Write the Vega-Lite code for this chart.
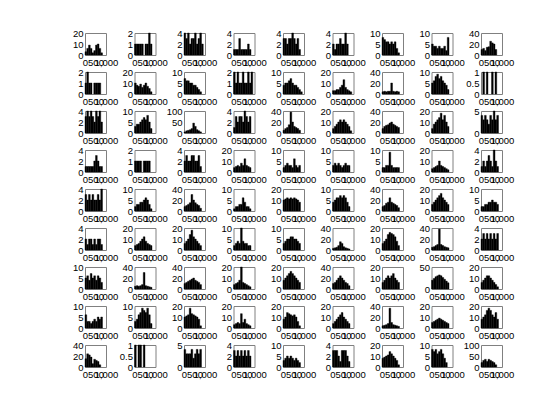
{
"$schema": "https://vega.github.io/schema/vega-lite/v6.json",
"background": "white",
"padding": {"left": 71, "top": 27, "right": 5, "bottom": 5},
"datasets": {"panels": [
{"p":1,"r":1,"k":1,"m":20},{"p":2,"r":1,"k":2,"m":2},{"p":3,"r":1,"k":3,"m":4},{"p":4,"r":1,"k":4,"m":4},{"p":5,"r":1,"k":5,"m":4},{"p":6,"r":1,"k":6,"m":4},{"p":7,"r":1,"k":7,"m":10},{"p":8,"r":1,"k":8,"m":10},{"p":9,"r":1,"k":9,"m":40},
{"p":10,"r":2,"k":1,"m":2},{"p":11,"r":2,"k":2,"m":20},{"p":12,"r":2,"k":3,"m":10},{"p":13,"r":2,"k":4,"m":2},{"p":14,"r":2,"k":5,"m":10},{"p":15,"r":2,"k":6,"m":20},{"p":16,"r":2,"k":7,"m":40},{"p":17,"r":2,"k":8,"m":10},{"p":18,"r":2,"k":9,"m":1},
{"p":19,"r":3,"k":1,"m":4},{"p":20,"r":3,"k":2,"m":10},{"p":21,"r":3,"k":3,"m":100},{"p":22,"r":3,"k":4,"m":4},{"p":23,"r":3,"k":5,"m":40},{"p":24,"r":3,"k":6,"m":20},{"p":25,"r":3,"k":7,"m":40},{"p":26,"r":3,"k":8,"m":20},{"p":27,"r":3,"k":9,"m":5},
{"p":28,"r":4,"k":1,"m":4},{"p":29,"r":4,"k":2,"m":2},{"p":30,"r":4,"k":3,"m":4},{"p":31,"r":4,"k":4,"m":20},{"p":32,"r":4,"k":5,"m":10},{"p":33,"r":4,"k":6,"m":10},{"p":34,"r":4,"k":7,"m":10},{"p":35,"r":4,"k":8,"m":20},{"p":36,"r":4,"k":9,"m":4},
{"p":37,"r":5,"k":1,"m":4},{"p":38,"r":5,"k":2,"m":10},{"p":39,"r":5,"k":3,"m":40},{"p":40,"r":5,"k":4,"m":10},{"p":41,"r":5,"k":5,"m":20},{"p":42,"r":5,"k":6,"m":10},{"p":43,"r":5,"k":7,"m":40},{"p":44,"r":5,"k":8,"m":20},{"p":45,"r":5,"k":9,"m":10},
{"p":46,"r":6,"k":1,"m":4},{"p":47,"r":6,"k":2,"m":20},{"p":48,"r":6,"k":3,"m":20},{"p":49,"r":6,"k":4,"m":10},{"p":50,"r":6,"k":5,"m":10},{"p":51,"r":6,"k":6,"m":40},{"p":52,"r":6,"k":7,"m":20},{"p":53,"r":6,"k":8,"m":40},{"p":54,"r":6,"k":9,"m":4},
{"p":55,"r":7,"k":1,"m":10},{"p":56,"r":7,"k":2,"m":40},{"p":57,"r":7,"k":3,"m":40},{"p":58,"r":7,"k":4,"m":20},{"p":59,"r":7,"k":5,"m":20},{"p":60,"r":7,"k":6,"m":40},{"p":61,"r":7,"k":7,"m":20},{"p":62,"r":7,"k":8,"m":50},{"p":63,"r":7,"k":9,"m":20},
{"p":64,"r":8,"k":1,"m":10},{"p":65,"r":8,"k":2,"m":10},{"p":66,"r":8,"k":3,"m":20},{"p":67,"r":8,"k":4,"m":20},{"p":68,"r":8,"k":5,"m":20},{"p":69,"r":8,"k":6,"m":20},{"p":70,"r":8,"k":7,"m":40},{"p":71,"r":8,"k":8,"m":20},{"p":72,"r":8,"k":9,"m":20},
{"p":73,"r":9,"k":1,"m":40},{"p":74,"r":9,"k":2,"m":1},{"p":75,"r":9,"k":3,"m":5},{"p":76,"r":9,"k":4,"m":4},{"p":77,"r":9,"k":5,"m":10},{"p":78,"r":9,"k":6,"m":4},{"p":79,"r":9,"k":7,"m":20},{"p":80,"r":9,"k":8,"m":10},{"p":81,"r":9,"k":9,"m":100}
]},
"data": {"values": [
{"p":1,"x":0,"e":83,"c":3},{"p":1,"x":83,"e":167,"c":6},{"p":1,"x":167,"e":250,"c":9},{"p":1,"x":250,"e":333,"c":6},{"p":1,"x":333,"e":417,"c":2},{"p":1,"x":417,"e":500,"c":4},{"p":1,"x":500,"e":583,"c":9},{"p":1,"x":583,"e":667,"c":10},{"p":1,"x":667,"e":750,"c":6},{"p":1,"x":750,"e":833,"c":2},
{"p":2,"x":0,"e":83,"c":1},{"p":2,"x":83,"e":167,"c":1},{"p":2,"x":167,"e":250,"c":1},{"p":2,"x":250,"e":333,"c":1},{"p":2,"x":333,"e":417,"c":1},{"p":2,"x":500,"e":583,"c":1},{"p":2,"x":583,"e":667,"c":1},{"p":2,"x":667,"e":750,"c":2},{"p":2,"x":750,"e":833,"c":1},
{"p":3,"x":0,"e":83,"c":4},{"p":3,"x":83,"e":167,"c":3},{"p":3,"x":167,"e":250,"c":4},{"p":3,"x":250,"e":333,"c":2},{"p":3,"x":333,"e":417,"c":3},{"p":3,"x":417,"e":500,"c":3},{"p":3,"x":500,"e":583,"c":4},{"p":3,"x":583,"e":667,"c":2},{"p":3,"x":667,"e":750,"c":3},{"p":3,"x":750,"e":833,"c":4},{"p":3,"x":833,"e":917,"c":2},
{"p":4,"x":0,"e":83,"c":1},{"p":4,"x":83,"e":167,"c":1},{"p":4,"x":167,"e":250,"c":1},{"p":4,"x":250,"e":333,"c":3},{"p":4,"x":333,"e":417,"c":1},{"p":4,"x":417,"e":500,"c":1},{"p":4,"x":500,"e":583,"c":1},{"p":4,"x":583,"e":667,"c":1},{"p":4,"x":667,"e":750,"c":2},{"p":4,"x":750,"e":833,"c":1},
{"p":5,"x":0,"e":83,"c":3},{"p":5,"x":83,"e":167,"c":3},{"p":5,"x":167,"e":250,"c":2},{"p":5,"x":250,"e":333,"c":3},{"p":5,"x":333,"e":417,"c":3},{"p":5,"x":417,"e":500,"c":4},{"p":5,"x":500,"e":583,"c":3},{"p":5,"x":583,"e":667,"c":2},{"p":5,"x":667,"e":750,"c":3},{"p":5,"x":750,"e":833,"c":1},
{"p":6,"x":0,"e":83,"c":2},{"p":6,"x":83,"e":167,"c":1},{"p":6,"x":167,"e":250,"c":2},{"p":6,"x":250,"e":333,"c":2},{"p":6,"x":333,"e":417,"c":3},{"p":6,"x":417,"e":500,"c":2},{"p":6,"x":500,"e":583,"c":2},{"p":6,"x":583,"e":667,"c":4},{"p":6,"x":667,"e":750,"c":2},
{"p":7,"x":0,"e":83,"c":8},{"p":7,"x":83,"e":167,"c":7},{"p":7,"x":167,"e":250,"c":6},{"p":7,"x":250,"e":333,"c":6},{"p":7,"x":333,"e":417,"c":5},{"p":7,"x":417,"e":500,"c":6},{"p":7,"x":500,"e":583,"c":5},{"p":7,"x":583,"e":667,"c":6},{"p":7,"x":667,"e":750,"c":3},{"p":7,"x":750,"e":833,"c":1},
{"p":8,"x":0,"e":83,"c":5},{"p":8,"x":83,"e":167,"c":4},{"p":8,"x":167,"e":250,"c":4},{"p":8,"x":250,"e":333,"c":3},{"p":8,"x":333,"e":417,"c":4},{"p":8,"x":417,"e":500,"c":3},{"p":8,"x":500,"e":583,"c":3},{"p":8,"x":583,"e":667,"c":4},{"p":8,"x":667,"e":750,"c":2},{"p":8,"x":750,"e":833,"c":8},
{"p":9,"x":0,"e":83,"c":10},{"p":9,"x":83,"e":167,"c":12},{"p":9,"x":167,"e":250,"c":8},{"p":9,"x":250,"e":333,"c":14},{"p":9,"x":333,"e":417,"c":15},{"p":9,"x":417,"e":500,"c":25},{"p":9,"x":500,"e":583,"c":22},{"p":9,"x":583,"e":667,"c":20},{"p":9,"x":667,"e":750,"c":10},
{"p":10,"x":0,"e":83,"c":1},{"p":10,"x":83,"e":167,"c":2},{"p":10,"x":167,"e":250,"c":1},{"p":10,"x":250,"e":333,"c":1},{"p":10,"x":417,"e":500,"c":1},{"p":10,"x":500,"e":583,"c":1},{"p":10,"x":583,"e":667,"c":1},{"p":10,"x":667,"e":750,"c":1},
{"p":11,"x":0,"e":83,"c":10},{"p":11,"x":83,"e":167,"c":8},{"p":11,"x":167,"e":250,"c":7},{"p":11,"x":250,"e":333,"c":9},{"p":11,"x":333,"e":417,"c":6},{"p":11,"x":417,"e":500,"c":8},{"p":11,"x":500,"e":583,"c":10},{"p":11,"x":583,"e":667,"c":7},{"p":11,"x":667,"e":750,"c":5},{"p":11,"x":750,"e":833,"c":2},
{"p":12,"x":0,"e":83,"c":7},{"p":12,"x":83,"e":167,"c":6},{"p":12,"x":167,"e":250,"c":6},{"p":12,"x":250,"e":333,"c":5},{"p":12,"x":333,"e":417,"c":5},{"p":12,"x":417,"e":500,"c":4},{"p":12,"x":500,"e":583,"c":4},{"p":12,"x":583,"e":667,"c":3},{"p":12,"x":667,"e":750,"c":2},{"p":12,"x":750,"e":833,"c":1},
{"p":13,"x":0,"e":83,"c":2},{"p":13,"x":83,"e":167,"c":1},{"p":13,"x":167,"e":250,"c":2},{"p":13,"x":250,"e":333,"c":1},{"p":13,"x":333,"e":417,"c":1},{"p":13,"x":417,"e":500,"c":2},{"p":13,"x":500,"e":583,"c":1},{"p":13,"x":583,"e":667,"c":1},{"p":13,"x":667,"e":750,"c":2},{"p":13,"x":750,"e":833,"c":1},{"p":13,"x":833,"e":917,"c":2},
{"p":14,"x":0,"e":83,"c":4},{"p":14,"x":83,"e":167,"c":5},{"p":14,"x":167,"e":250,"c":5},{"p":14,"x":250,"e":333,"c":6},{"p":14,"x":333,"e":417,"c":7},{"p":14,"x":417,"e":500,"c":5},{"p":14,"x":500,"e":583,"c":4},{"p":14,"x":583,"e":667,"c":4},{"p":14,"x":667,"e":750,"c":3},{"p":14,"x":750,"e":833,"c":2},{"p":14,"x":833,"e":917,"c":1},
{"p":15,"x":0,"e":83,"c":3},{"p":15,"x":83,"e":167,"c":3},{"p":15,"x":167,"e":250,"c":4},{"p":15,"x":250,"e":333,"c":4},{"p":15,"x":333,"e":417,"c":6},{"p":15,"x":417,"e":500,"c":8},{"p":15,"x":500,"e":583,"c":13},{"p":15,"x":583,"e":667,"c":6},{"p":15,"x":667,"e":750,"c":4},{"p":15,"x":750,"e":833,"c":3},{"p":15,"x":833,"e":917,"c":2},
{"p":16,"x":0,"e":83,"c":4},{"p":16,"x":83,"e":167,"c":5},{"p":16,"x":167,"e":250,"c":4},{"p":16,"x":250,"e":333,"c":5},{"p":16,"x":333,"e":417,"c":5},{"p":16,"x":417,"e":500,"c":20},{"p":16,"x":500,"e":583,"c":5},{"p":16,"x":583,"e":667,"c":4},{"p":16,"x":667,"e":750,"c":5},{"p":16,"x":750,"e":833,"c":4},
{"p":17,"x":0,"e":83,"c":5},{"p":17,"x":83,"e":167,"c":6},{"p":17,"x":167,"e":250,"c":8},{"p":17,"x":250,"e":333,"c":9},{"p":17,"x":333,"e":417,"c":7},{"p":17,"x":417,"e":500,"c":8},{"p":17,"x":500,"e":583,"c":6},{"p":17,"x":583,"e":667,"c":5},{"p":17,"x":667,"e":750,"c":4},{"p":17,"x":750,"e":833,"c":2},
{"p":18,"x":83,"e":167,"c":1},{"p":18,"x":250,"e":333,"c":1},{"p":18,"x":500,"e":583,"c":1},{"p":18,"x":667,"e":750,"c":1},
{"p":19,"x":0,"e":83,"c":3},{"p":19,"x":83,"e":167,"c":4},{"p":19,"x":167,"e":250,"c":3},{"p":19,"x":250,"e":333,"c":4},{"p":19,"x":333,"e":417,"c":3},{"p":19,"x":417,"e":500,"c":2},{"p":19,"x":500,"e":583,"c":4},{"p":19,"x":583,"e":667,"c":3},{"p":19,"x":667,"e":750,"c":4},{"p":19,"x":750,"e":833,"c":2},
{"p":20,"x":0,"e":83,"c":3},{"p":20,"x":83,"e":167,"c":4},{"p":20,"x":167,"e":250,"c":4},{"p":20,"x":250,"e":333,"c":5},{"p":20,"x":333,"e":417,"c":6},{"p":20,"x":417,"e":500,"c":7},{"p":20,"x":500,"e":583,"c":6},{"p":20,"x":583,"e":667,"c":8},{"p":20,"x":667,"e":750,"c":5},{"p":20,"x":750,"e":833,"c":2},
{"p":21,"x":0,"e":83,"c":5},{"p":21,"x":83,"e":167,"c":10},{"p":21,"x":167,"e":250,"c":12},{"p":21,"x":250,"e":333,"c":15},{"p":21,"x":333,"e":417,"c":20},{"p":21,"x":417,"e":500,"c":45},{"p":21,"x":500,"e":583,"c":30},{"p":21,"x":583,"e":667,"c":15},{"p":21,"x":667,"e":750,"c":10},{"p":21,"x":750,"e":833,"c":5},
{"p":22,"x":0,"e":83,"c":1},{"p":22,"x":83,"e":167,"c":3},{"p":22,"x":167,"e":250,"c":2},{"p":22,"x":250,"e":333,"c":3},{"p":22,"x":333,"e":417,"c":3},{"p":22,"x":417,"e":500,"c":2},{"p":22,"x":500,"e":583,"c":4},{"p":22,"x":583,"e":667,"c":3},{"p":22,"x":667,"e":750,"c":2},{"p":22,"x":750,"e":833,"c":3},
{"p":23,"x":0,"e":83,"c":5},{"p":23,"x":83,"e":167,"c":8},{"p":23,"x":167,"e":250,"c":10},{"p":23,"x":250,"e":333,"c":15},{"p":23,"x":333,"e":417,"c":38},{"p":23,"x":417,"e":500,"c":20},{"p":23,"x":500,"e":583,"c":12},{"p":23,"x":583,"e":667,"c":10},{"p":23,"x":667,"e":750,"c":8},{"p":23,"x":750,"e":833,"c":5},
{"p":24,"x":0,"e":83,"c":4},{"p":24,"x":83,"e":167,"c":6},{"p":24,"x":167,"e":250,"c":8},{"p":24,"x":250,"e":333,"c":10},{"p":24,"x":333,"e":417,"c":12},{"p":24,"x":417,"e":500,"c":10},{"p":24,"x":500,"e":583,"c":12},{"p":24,"x":583,"e":667,"c":10},{"p":24,"x":667,"e":750,"c":8},{"p":24,"x":750,"e":833,"c":6},{"p":24,"x":833,"e":917,"c":2},
{"p":25,"x":0,"e":83,"c":8},{"p":25,"x":83,"e":167,"c":12},{"p":25,"x":167,"e":250,"c":14},{"p":25,"x":250,"e":333,"c":15},{"p":25,"x":333,"e":417,"c":18},{"p":25,"x":417,"e":500,"c":20},{"p":25,"x":500,"e":583,"c":16},{"p":25,"x":583,"e":667,"c":14},{"p":25,"x":667,"e":750,"c":12},{"p":25,"x":750,"e":833,"c":10},
{"p":26,"x":0,"e":83,"c":4},{"p":26,"x":83,"e":167,"c":8},{"p":26,"x":167,"e":250,"c":10},{"p":26,"x":250,"e":333,"c":12},{"p":26,"x":333,"e":417,"c":14},{"p":26,"x":417,"e":500,"c":18},{"p":26,"x":500,"e":583,"c":12},{"p":26,"x":583,"e":667,"c":16},{"p":26,"x":667,"e":750,"c":10},{"p":26,"x":750,"e":833,"c":6},
{"p":27,"x":0,"e":83,"c":4},{"p":27,"x":83,"e":167,"c":3},{"p":27,"x":167,"e":250,"c":4},{"p":27,"x":250,"e":333,"c":3},{"p":27,"x":333,"e":417,"c":2},{"p":27,"x":417,"e":500,"c":4},{"p":27,"x":500,"e":583,"c":3},{"p":27,"x":583,"e":667,"c":5},{"p":27,"x":667,"e":750,"c":3},{"p":27,"x":750,"e":833,"c":4},
{"p":28,"x":0,"e":83,"c":1},{"p":28,"x":83,"e":167,"c":1},{"p":28,"x":167,"e":250,"c":1},{"p":28,"x":250,"e":333,"c":1},{"p":28,"x":333,"e":417,"c":1},{"p":28,"x":417,"e":500,"c":2},{"p":28,"x":500,"e":583,"c":3},{"p":28,"x":583,"e":667,"c":2},{"p":28,"x":667,"e":750,"c":1},{"p":28,"x":750,"e":833,"c":1},
{"p":29,"x":0,"e":83,"c":1},{"p":29,"x":83,"e":167,"c":1},{"p":29,"x":167,"e":250,"c":1},{"p":29,"x":250,"e":333,"c":1},{"p":29,"x":417,"e":500,"c":1},{"p":29,"x":500,"e":583,"c":1},{"p":29,"x":583,"e":667,"c":1},{"p":29,"x":667,"e":750,"c":1},
{"p":30,"x":0,"e":83,"c":2},{"p":30,"x":83,"e":167,"c":3},{"p":30,"x":167,"e":250,"c":2},{"p":30,"x":250,"e":333,"c":2},{"p":30,"x":333,"e":417,"c":3},{"p":30,"x":417,"e":500,"c":3},{"p":30,"x":500,"e":583,"c":2},{"p":30,"x":583,"e":667,"c":2},{"p":30,"x":667,"e":750,"c":3},{"p":30,"x":750,"e":833,"c":1},
{"p":31,"x":0,"e":83,"c":4},{"p":31,"x":83,"e":167,"c":5},{"p":31,"x":167,"e":250,"c":6},{"p":31,"x":250,"e":333,"c":5},{"p":31,"x":333,"e":417,"c":8},{"p":31,"x":417,"e":500,"c":6},{"p":31,"x":500,"e":583,"c":12},{"p":31,"x":583,"e":667,"c":6},{"p":31,"x":667,"e":750,"c":5},{"p":31,"x":750,"e":833,"c":4},
{"p":32,"x":0,"e":83,"c":2},{"p":32,"x":83,"e":167,"c":3},{"p":32,"x":167,"e":250,"c":4},{"p":32,"x":250,"e":333,"c":3},{"p":32,"x":333,"e":417,"c":3},{"p":32,"x":417,"e":500,"c":2},{"p":32,"x":500,"e":583,"c":6},{"p":32,"x":583,"e":667,"c":3},{"p":32,"x":667,"e":750,"c":2},{"p":32,"x":750,"e":833,"c":3},
{"p":33,"x":0,"e":83,"c":3},{"p":33,"x":83,"e":167,"c":4},{"p":33,"x":167,"e":250,"c":3},{"p":33,"x":250,"e":333,"c":4},{"p":33,"x":333,"e":417,"c":3},{"p":33,"x":417,"e":500,"c":2},{"p":33,"x":500,"e":583,"c":3},{"p":33,"x":583,"e":667,"c":4},{"p":33,"x":667,"e":750,"c":3},{"p":33,"x":750,"e":833,"c":3},
{"p":34,"x":0,"e":83,"c":2},{"p":34,"x":83,"e":167,"c":2},{"p":34,"x":167,"e":250,"c":3},{"p":34,"x":250,"e":333,"c":3},{"p":34,"x":333,"e":417,"c":9},{"p":34,"x":417,"e":500,"c":3},{"p":34,"x":500,"e":583,"c":2},{"p":34,"x":583,"e":667,"c":2},{"p":34,"x":667,"e":750,"c":2},{"p":34,"x":750,"e":833,"c":2},
{"p":35,"x":0,"e":83,"c":3},{"p":35,"x":83,"e":167,"c":4},{"p":35,"x":167,"e":250,"c":5},{"p":35,"x":250,"e":333,"c":6},{"p":35,"x":333,"e":417,"c":10},{"p":35,"x":417,"e":500,"c":6},{"p":35,"x":500,"e":583,"c":5},{"p":35,"x":583,"e":667,"c":4},{"p":35,"x":667,"e":750,"c":3},{"p":35,"x":750,"e":833,"c":2},
{"p":36,"x":0,"e":83,"c":1},{"p":36,"x":83,"e":167,"c":2},{"p":36,"x":167,"e":250,"c":1},{"p":36,"x":250,"e":333,"c":2},{"p":36,"x":333,"e":417,"c":3},{"p":36,"x":417,"e":500,"c":2},{"p":36,"x":500,"e":583,"c":1},{"p":36,"x":583,"e":667,"c":4},{"p":36,"x":667,"e":750,"c":2},{"p":36,"x":750,"e":833,"c":1},
{"p":37,"x":0,"e":83,"c":3},{"p":37,"x":83,"e":167,"c":2},{"p":37,"x":167,"e":250,"c":3},{"p":37,"x":250,"e":333,"c":2},{"p":37,"x":333,"e":417,"c":3},{"p":37,"x":417,"e":500,"c":2},{"p":37,"x":500,"e":583,"c":2},{"p":37,"x":583,"e":667,"c":3},{"p":37,"x":667,"e":750,"c":2},{"p":37,"x":750,"e":833,"c":4},
{"p":38,"x":0,"e":83,"c":2},{"p":38,"x":83,"e":167,"c":3},{"p":38,"x":167,"e":250,"c":3},{"p":38,"x":250,"e":333,"c":4},{"p":38,"x":333,"e":417,"c":4},{"p":38,"x":417,"e":500,"c":5},{"p":38,"x":500,"e":583,"c":6},{"p":38,"x":583,"e":667,"c":5},{"p":38,"x":667,"e":750,"c":3},{"p":38,"x":750,"e":833,"c":1},
{"p":39,"x":0,"e":83,"c":8},{"p":39,"x":83,"e":167,"c":10},{"p":39,"x":167,"e":250,"c":12},{"p":39,"x":250,"e":333,"c":15},{"p":39,"x":333,"e":417,"c":30},{"p":39,"x":417,"e":500,"c":20},{"p":39,"x":500,"e":583,"c":15},{"p":39,"x":583,"e":667,"c":12},{"p":39,"x":667,"e":750,"c":10},{"p":39,"x":750,"e":833,"c":5},
{"p":40,"x":0,"e":83,"c":1},{"p":40,"x":83,"e":167,"c":2},{"p":40,"x":167,"e":250,"c":2},{"p":40,"x":250,"e":333,"c":3},{"p":40,"x":333,"e":417,"c":3},{"p":40,"x":417,"e":500,"c":6},{"p":40,"x":500,"e":583,"c":4},{"p":40,"x":583,"e":667,"c":2},{"p":40,"x":667,"e":750,"c":2},{"p":40,"x":750,"e":833,"c":1},
{"p":41,"x":0,"e":83,"c":10},{"p":41,"x":83,"e":167,"c":11},{"p":41,"x":167,"e":250,"c":12},{"p":41,"x":250,"e":333,"c":11},{"p":41,"x":333,"e":417,"c":12},{"p":41,"x":417,"e":500,"c":11},{"p":41,"x":500,"e":583,"c":12},{"p":41,"x":583,"e":667,"c":11},{"p":41,"x":667,"e":750,"c":10},{"p":41,"x":750,"e":833,"c":8},
{"p":42,"x":0,"e":83,"c":4},{"p":42,"x":83,"e":167,"c":5},{"p":42,"x":167,"e":250,"c":6},{"p":42,"x":250,"e":333,"c":6},{"p":42,"x":333,"e":417,"c":7},{"p":42,"x":417,"e":500,"c":6},{"p":42,"x":500,"e":583,"c":7},{"p":42,"x":583,"e":667,"c":6},{"p":42,"x":667,"e":750,"c":4},{"p":42,"x":750,"e":833,"c":2},
{"p":43,"x":0,"e":83,"c":8},{"p":43,"x":83,"e":167,"c":10},{"p":43,"x":167,"e":250,"c":14},{"p":43,"x":250,"e":333,"c":16},{"p":43,"x":333,"e":417,"c":24},{"p":43,"x":417,"e":500,"c":16},{"p":43,"x":500,"e":583,"c":14},{"p":43,"x":583,"e":667,"c":12},{"p":43,"x":667,"e":750,"c":10},{"p":43,"x":750,"e":833,"c":6},
{"p":44,"x":0,"e":83,"c":6},{"p":44,"x":83,"e":167,"c":8},{"p":44,"x":167,"e":250,"c":10},{"p":44,"x":250,"e":333,"c":12},{"p":44,"x":333,"e":417,"c":14},{"p":44,"x":417,"e":500,"c":16},{"p":44,"x":500,"e":583,"c":12},{"p":44,"x":583,"e":667,"c":10},{"p":44,"x":667,"e":750,"c":8},{"p":44,"x":750,"e":833,"c":6},
{"p":45,"x":0,"e":83,"c":2},{"p":45,"x":83,"e":167,"c":2},{"p":45,"x":167,"e":250,"c":3},{"p":45,"x":250,"e":333,"c":3},{"p":45,"x":333,"e":417,"c":4},{"p":45,"x":417,"e":500,"c":4},{"p":45,"x":500,"e":583,"c":5},{"p":45,"x":583,"e":667,"c":4},{"p":45,"x":667,"e":750,"c":4},{"p":45,"x":750,"e":833,"c":3},
{"p":46,"x":0,"e":83,"c":2},{"p":46,"x":83,"e":167,"c":1},{"p":46,"x":167,"e":250,"c":2},{"p":46,"x":250,"e":333,"c":2},{"p":46,"x":333,"e":417,"c":1},{"p":46,"x":417,"e":500,"c":2},{"p":46,"x":500,"e":583,"c":1},{"p":46,"x":583,"e":667,"c":2},{"p":46,"x":667,"e":750,"c":2},{"p":46,"x":750,"e":833,"c":1},
{"p":47,"x":0,"e":83,"c":4},{"p":47,"x":83,"e":167,"c":5},{"p":47,"x":167,"e":250,"c":6},{"p":47,"x":250,"e":333,"c":8},{"p":47,"x":333,"e":417,"c":10},{"p":47,"x":417,"e":500,"c":12},{"p":47,"x":500,"e":583,"c":8},{"p":47,"x":583,"e":667,"c":6},{"p":47,"x":667,"e":750,"c":5},{"p":47,"x":750,"e":833,"c":4},
{"p":48,"x":0,"e":83,"c":6},{"p":48,"x":83,"e":167,"c":8},{"p":48,"x":167,"e":250,"c":10},{"p":48,"x":250,"e":333,"c":14},{"p":48,"x":333,"e":417,"c":18},{"p":48,"x":417,"e":500,"c":12},{"p":48,"x":500,"e":583,"c":10},{"p":48,"x":583,"e":667,"c":8},{"p":48,"x":667,"e":750,"c":6},{"p":48,"x":750,"e":833,"c":4},
{"p":49,"x":0,"e":83,"c":2},{"p":49,"x":83,"e":167,"c":3},{"p":49,"x":167,"e":250,"c":4},{"p":49,"x":250,"e":333,"c":3},{"p":49,"x":333,"e":417,"c":10},{"p":49,"x":417,"e":500,"c":4},{"p":49,"x":500,"e":583,"c":3},{"p":49,"x":583,"e":667,"c":3},{"p":49,"x":667,"e":750,"c":2},{"p":49,"x":750,"e":833,"c":2},
{"p":50,"x":0,"e":83,"c":3},{"p":50,"x":83,"e":167,"c":4},{"p":50,"x":167,"e":250,"c":5},{"p":50,"x":250,"e":333,"c":5},{"p":50,"x":333,"e":417,"c":6},{"p":50,"x":417,"e":500,"c":6},{"p":50,"x":500,"e":583,"c":5},{"p":50,"x":583,"e":667,"c":5},{"p":50,"x":667,"e":750,"c":4},{"p":50,"x":750,"e":833,"c":3},
{"p":51,"x":0,"e":83,"c":3},{"p":51,"x":83,"e":167,"c":4},{"p":51,"x":167,"e":250,"c":5},{"p":51,"x":250,"e":333,"c":8},{"p":51,"x":333,"e":417,"c":15},{"p":51,"x":417,"e":500,"c":12},{"p":51,"x":500,"e":583,"c":6},{"p":51,"x":583,"e":667,"c":4},{"p":51,"x":667,"e":750,"c":3},{"p":51,"x":750,"e":833,"c":2},
{"p":52,"x":0,"e":83,"c":6},{"p":52,"x":83,"e":167,"c":8},{"p":52,"x":167,"e":250,"c":10},{"p":52,"x":250,"e":333,"c":14},{"p":52,"x":333,"e":417,"c":16},{"p":52,"x":417,"e":500,"c":15},{"p":52,"x":500,"e":583,"c":14},{"p":52,"x":583,"e":667,"c":12},{"p":52,"x":667,"e":750,"c":8},{"p":52,"x":750,"e":833,"c":4},
{"p":53,"x":0,"e":83,"c":5},{"p":53,"x":83,"e":167,"c":6},{"p":53,"x":167,"e":250,"c":8},{"p":53,"x":250,"e":333,"c":10},{"p":53,"x":333,"e":417,"c":38},{"p":53,"x":417,"e":500,"c":10},{"p":53,"x":500,"e":583,"c":8},{"p":53,"x":583,"e":667,"c":6},{"p":53,"x":667,"e":750,"c":5},{"p":53,"x":750,"e":833,"c":4},
{"p":54,"x":0,"e":83,"c":2},{"p":54,"x":83,"e":167,"c":3},{"p":54,"x":167,"e":250,"c":2},{"p":54,"x":250,"e":333,"c":3},{"p":54,"x":333,"e":417,"c":2},{"p":54,"x":417,"e":500,"c":3},{"p":54,"x":500,"e":583,"c":2},{"p":54,"x":583,"e":667,"c":3},{"p":54,"x":667,"e":750,"c":2},{"p":54,"x":750,"e":833,"c":3},
{"p":55,"x":0,"e":83,"c":5},{"p":55,"x":83,"e":167,"c":6},{"p":55,"x":167,"e":250,"c":4},{"p":55,"x":250,"e":333,"c":7},{"p":55,"x":333,"e":417,"c":5},{"p":55,"x":417,"e":500,"c":6},{"p":55,"x":500,"e":583,"c":4},{"p":55,"x":583,"e":667,"c":6},{"p":55,"x":667,"e":750,"c":5},{"p":55,"x":750,"e":833,"c":3},
{"p":56,"x":0,"e":83,"c":5},{"p":56,"x":83,"e":167,"c":6},{"p":56,"x":167,"e":250,"c":5},{"p":56,"x":250,"e":333,"c":6},{"p":56,"x":333,"e":417,"c":8},{"p":56,"x":417,"e":500,"c":30},{"p":56,"x":500,"e":583,"c":6},{"p":56,"x":583,"e":667,"c":5},{"p":56,"x":667,"e":750,"c":4},{"p":56,"x":750,"e":833,"c":3},
{"p":57,"x":0,"e":83,"c":10},{"p":57,"x":83,"e":167,"c":12},{"p":57,"x":167,"e":250,"c":14},{"p":57,"x":250,"e":333,"c":16},{"p":57,"x":333,"e":417,"c":18},{"p":57,"x":417,"e":500,"c":20},{"p":57,"x":500,"e":583,"c":16},{"p":57,"x":583,"e":667,"c":14},{"p":57,"x":667,"e":750,"c":12},{"p":57,"x":750,"e":833,"c":8},
{"p":58,"x":0,"e":83,"c":4},{"p":58,"x":83,"e":167,"c":5},{"p":58,"x":167,"e":250,"c":6},{"p":58,"x":250,"e":333,"c":8},{"p":58,"x":333,"e":417,"c":20},{"p":58,"x":417,"e":500,"c":6},{"p":58,"x":500,"e":583,"c":5},{"p":58,"x":583,"e":667,"c":4},{"p":58,"x":667,"e":750,"c":3},{"p":58,"x":750,"e":833,"c":2},
{"p":59,"x":0,"e":83,"c":8},{"p":59,"x":83,"e":167,"c":10},{"p":59,"x":167,"e":250,"c":12},{"p":59,"x":250,"e":333,"c":14},{"p":59,"x":333,"e":417,"c":16},{"p":59,"x":417,"e":500,"c":14},{"p":59,"x":500,"e":583,"c":12},{"p":59,"x":583,"e":667,"c":10},{"p":59,"x":667,"e":750,"c":8},{"p":59,"x":750,"e":833,"c":6},
{"p":60,"x":0,"e":83,"c":10},{"p":60,"x":83,"e":167,"c":12},{"p":60,"x":167,"e":250,"c":16},{"p":60,"x":250,"e":333,"c":20},{"p":60,"x":333,"e":417,"c":24},{"p":60,"x":417,"e":500,"c":20},{"p":60,"x":500,"e":583,"c":16},{"p":60,"x":583,"e":667,"c":12},{"p":60,"x":667,"e":750,"c":10},{"p":60,"x":750,"e":833,"c":6},
{"p":61,"x":0,"e":83,"c":6},{"p":61,"x":83,"e":167,"c":8},{"p":61,"x":167,"e":250,"c":10},{"p":61,"x":250,"e":333,"c":12},{"p":61,"x":333,"e":417,"c":10},{"p":61,"x":417,"e":500,"c":12},{"p":61,"x":500,"e":583,"c":14},{"p":61,"x":583,"e":667,"c":10},{"p":61,"x":667,"e":750,"c":8},{"p":61,"x":750,"e":833,"c":6},
{"p":62,"x":0,"e":83,"c":20},{"p":62,"x":83,"e":167,"c":24},{"p":62,"x":167,"e":250,"c":28},{"p":62,"x":250,"e":333,"c":30},{"p":62,"x":333,"e":417,"c":32},{"p":62,"x":417,"e":500,"c":30},{"p":62,"x":500,"e":583,"c":26},{"p":62,"x":583,"e":667,"c":22},{"p":62,"x":667,"e":750,"c":18},{"p":62,"x":750,"e":833,"c":14},
{"p":63,"x":0,"e":83,"c":6},{"p":63,"x":83,"e":167,"c":8},{"p":63,"x":167,"e":250,"c":10},{"p":63,"x":250,"e":333,"c":12},{"p":63,"x":333,"e":417,"c":12},{"p":63,"x":417,"e":500,"c":10},{"p":63,"x":500,"e":583,"c":8},{"p":63,"x":583,"e":667,"c":6},{"p":63,"x":667,"e":750,"c":4},{"p":63,"x":750,"e":833,"c":2},
{"p":64,"x":0,"e":83,"c":6},{"p":64,"x":83,"e":167,"c":3},{"p":64,"x":167,"e":250,"c":3},{"p":64,"x":250,"e":333,"c":2},{"p":64,"x":333,"e":417,"c":3},{"p":64,"x":417,"e":500,"c":4},{"p":64,"x":500,"e":583,"c":3},{"p":64,"x":583,"e":667,"c":5},{"p":64,"x":667,"e":750,"c":4},{"p":64,"x":750,"e":833,"c":5},
{"p":65,"x":0,"e":83,"c":3},{"p":65,"x":83,"e":167,"c":4},{"p":65,"x":167,"e":250,"c":6},{"p":65,"x":250,"e":333,"c":7},{"p":65,"x":333,"e":417,"c":9},{"p":65,"x":417,"e":500,"c":8},{"p":65,"x":500,"e":583,"c":7},{"p":65,"x":583,"e":667,"c":9},{"p":65,"x":667,"e":750,"c":6},{"p":65,"x":750,"e":833,"c":2},
{"p":66,"x":0,"e":83,"c":10},{"p":66,"x":83,"e":167,"c":11},{"p":66,"x":167,"e":250,"c":12},{"p":66,"x":250,"e":333,"c":18},{"p":66,"x":333,"e":417,"c":13},{"p":66,"x":417,"e":500,"c":12},{"p":66,"x":500,"e":583,"c":11},{"p":66,"x":583,"e":667,"c":10},{"p":66,"x":667,"e":750,"c":8},{"p":66,"x":750,"e":833,"c":2},
{"p":67,"x":0,"e":83,"c":3},{"p":67,"x":83,"e":167,"c":4},{"p":67,"x":167,"e":250,"c":5},{"p":67,"x":250,"e":333,"c":4},{"p":67,"x":333,"e":417,"c":13},{"p":67,"x":417,"e":500,"c":5},{"p":67,"x":500,"e":583,"c":8},{"p":67,"x":583,"e":667,"c":4},{"p":67,"x":667,"e":750,"c":3},{"p":67,"x":750,"e":833,"c":2},
{"p":68,"x":0,"e":83,"c":8},{"p":68,"x":83,"e":167,"c":10},{"p":68,"x":167,"e":250,"c":14},{"p":68,"x":250,"e":333,"c":13},{"p":68,"x":333,"e":417,"c":12},{"p":68,"x":417,"e":500,"c":11},{"p":68,"x":500,"e":583,"c":12},{"p":68,"x":583,"e":667,"c":10},{"p":68,"x":667,"e":750,"c":6},{"p":68,"x":750,"e":833,"c":2},
{"p":69,"x":0,"e":83,"c":4},{"p":69,"x":83,"e":167,"c":6},{"p":69,"x":167,"e":250,"c":8},{"p":69,"x":250,"e":333,"c":10},{"p":69,"x":333,"e":417,"c":12},{"p":69,"x":417,"e":500,"c":14},{"p":69,"x":500,"e":583,"c":10},{"p":69,"x":583,"e":667,"c":8},{"p":69,"x":667,"e":750,"c":6},{"p":69,"x":750,"e":833,"c":4},
{"p":70,"x":0,"e":83,"c":4},{"p":70,"x":83,"e":167,"c":5},{"p":70,"x":167,"e":250,"c":6},{"p":70,"x":250,"e":333,"c":8},{"p":70,"x":333,"e":417,"c":36},{"p":70,"x":417,"e":500,"c":10},{"p":70,"x":500,"e":583,"c":6},{"p":70,"x":583,"e":667,"c":5},{"p":70,"x":667,"e":750,"c":4},{"p":70,"x":750,"e":833,"c":3},
{"p":71,"x":0,"e":83,"c":5},{"p":71,"x":83,"e":167,"c":6},{"p":71,"x":167,"e":250,"c":7},{"p":71,"x":250,"e":333,"c":8},{"p":71,"x":333,"e":417,"c":9},{"p":71,"x":417,"e":500,"c":8},{"p":71,"x":500,"e":583,"c":7},{"p":71,"x":583,"e":667,"c":6},{"p":71,"x":667,"e":750,"c":5},{"p":71,"x":750,"e":833,"c":4},
{"p":72,"x":0,"e":83,"c":8},{"p":72,"x":83,"e":167,"c":10},{"p":72,"x":167,"e":250,"c":12},{"p":72,"x":250,"e":333,"c":16},{"p":72,"x":333,"e":417,"c":18},{"p":72,"x":417,"e":500,"c":16},{"p":72,"x":500,"e":583,"c":12},{"p":72,"x":583,"e":667,"c":10},{"p":72,"x":667,"e":750,"c":14},{"p":72,"x":750,"e":833,"c":8},
{"p":73,"x":0,"e":83,"c":15},{"p":73,"x":83,"e":167,"c":24},{"p":73,"x":167,"e":250,"c":22},{"p":73,"x":250,"e":333,"c":18},{"p":73,"x":333,"e":417,"c":6},{"p":73,"x":417,"e":500,"c":14},{"p":73,"x":500,"e":583,"c":12},{"p":73,"x":583,"e":667,"c":10},{"p":73,"x":667,"e":750,"c":4},
{"p":74,"x":0,"e":83,"c":1},{"p":74,"x":167,"e":250,"c":1},{"p":74,"x":250,"e":333,"c":1},{"p":74,"x":417,"e":500,"c":1},
{"p":75,"x":0,"e":83,"c":4},{"p":75,"x":83,"e":167,"c":3},{"p":75,"x":167,"e":250,"c":3},{"p":75,"x":250,"e":333,"c":3},{"p":75,"x":333,"e":417,"c":4},{"p":75,"x":417,"e":500,"c":2},{"p":75,"x":500,"e":583,"c":3},{"p":75,"x":583,"e":667,"c":4},{"p":75,"x":667,"e":750,"c":3},{"p":75,"x":750,"e":833,"c":4},
{"p":76,"x":0,"e":83,"c":3},{"p":76,"x":83,"e":167,"c":2},{"p":76,"x":167,"e":250,"c":3},{"p":76,"x":250,"e":333,"c":2},{"p":76,"x":333,"e":417,"c":3},{"p":76,"x":417,"e":500,"c":2},{"p":76,"x":500,"e":583,"c":3},{"p":76,"x":583,"e":667,"c":2},{"p":76,"x":667,"e":750,"c":3},{"p":76,"x":750,"e":833,"c":2},
{"p":77,"x":0,"e":83,"c":3},{"p":77,"x":83,"e":167,"c":4},{"p":77,"x":167,"e":250,"c":5},{"p":77,"x":250,"e":333,"c":4},{"p":77,"x":333,"e":417,"c":5},{"p":77,"x":417,"e":500,"c":4},{"p":77,"x":500,"e":583,"c":3},{"p":77,"x":583,"e":667,"c":4},{"p":77,"x":667,"e":750,"c":3},{"p":77,"x":750,"e":833,"c":2},
{"p":78,"x":0,"e":83,"c":3},{"p":78,"x":83,"e":167,"c":3},{"p":78,"x":167,"e":250,"c":3},{"p":78,"x":250,"e":333,"c":2},{"p":78,"x":333,"e":417,"c":1},{"p":78,"x":417,"e":500,"c":3},{"p":78,"x":500,"e":583,"c":3},{"p":78,"x":583,"e":667,"c":3},{"p":78,"x":667,"e":750,"c":2},{"p":78,"x":750,"e":833,"c":1},
{"p":79,"x":0,"e":83,"c":8},{"p":79,"x":83,"e":167,"c":9},{"p":79,"x":167,"e":250,"c":10},{"p":79,"x":250,"e":333,"c":11},{"p":79,"x":333,"e":417,"c":14},{"p":79,"x":417,"e":500,"c":12},{"p":79,"x":500,"e":583,"c":10},{"p":79,"x":583,"e":667,"c":8},{"p":79,"x":667,"e":750,"c":6},{"p":79,"x":750,"e":833,"c":2},
{"p":80,"x":0,"e":83,"c":8},{"p":80,"x":83,"e":167,"c":7},{"p":80,"x":167,"e":250,"c":8},{"p":80,"x":250,"e":333,"c":6},{"p":80,"x":333,"e":417,"c":7},{"p":80,"x":417,"e":500,"c":8},{"p":80,"x":500,"e":583,"c":6},{"p":80,"x":583,"e":667,"c":4},{"p":80,"x":667,"e":750,"c":2},
{"p":81,"x":0,"e":83,"c":20},{"p":81,"x":83,"e":167,"c":30},{"p":81,"x":167,"e":250,"c":35},{"p":81,"x":250,"e":333,"c":25},{"p":81,"x":333,"e":417,"c":35},{"p":81,"x":417,"e":500,"c":30},{"p":81,"x":500,"e":583,"c":25},{"p":81,"x":583,"e":667,"c":20},{"p":81,"x":667,"e":750,"c":10}
]},
"transform": [{"lookup": "p", "from": {"data": {"name": "panels"}, "key": "p", "fields": ["r", "k", "m"]}}],
"facet": {
  "row": {"field": "r", "type": "ordinal", "title": null, "header": {"labels": false, "title": null, "labelPadding": 0}},
  "column": {"field": "k", "type": "ordinal", "title": null, "header": {"labels": false, "title": null, "labelPadding": 0}}
},
"spacing": {"row": 17, "column": 28.5},
"bounds": "flush",
"spec": {
  "width": 21,
  "height": 22,
  "layer": [
    {"mark": {"type": "rect", "color": "#000", "stroke": "#000", "strokeWidth": 0.4},
     "encoding": {
       "x": {"field": "x", "type": "quantitative", "scale": {"domain": [0, 1000], "nice": false}, "axis": {"values": [0, 500, 1000], "title": null}},
       "x2": {"field": "e"},
       "y": {"field": "c", "type": "quantitative", "scale": {"zero": true, "nice": false}, "axis": {"tickCount": {"expr": "(domain('child_y')[1] == 5 || domain('child_y')[1] == 50) ? 1 : 2"}, "format": "~r", "title": null}},
       "y2": {"datum": 0}
     }},
    {"mark": {"type": "rule", "stroke": "transparent", "strokeWidth": 0, "opacity": 0},
     "encoding": {"y": {"field": "m", "type": "quantitative"}}}
  ]
},
"resolve": {"scale": {"y": "independent"}, "axis": {"x": "independent", "y": "independent"}},
"config": {
  "view": {"stroke": "#808080", "strokeWidth": 1},
  "axis": {"labelFont": "Liberation Sans", "labelFontSize": 9.5, "labelColor": "#000", "domain": false, "ticks": false, "grid": false, "labelPadding": 2, "labelOverlap": false, "labelFlush": false, "labelBound": false}
}
}
